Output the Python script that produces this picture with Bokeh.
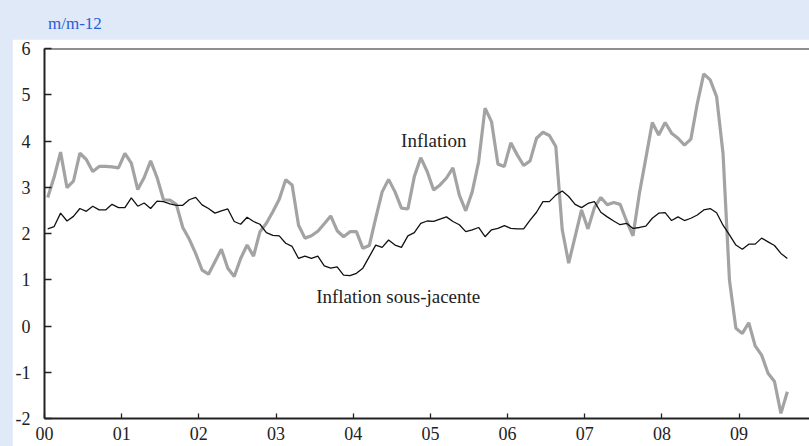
from bokeh.plotting import figure
from bokeh.models import FixedTicker, Range1d, Span, Label, Div, Spacer
from bokeh.layouts import column, row
from bokeh.embed import file_html
from bokeh.resources import INLINE

# ---------------- data (monthly, Jan 2000 - Aug 2009) ----------------
start_year = 2000
inflation = [
    2.78, 3.22, 3.76, 2.99, 3.13, 3.74, 3.60, 3.34, 3.45, 3.45, 3.44, 3.42,
    3.73, 3.52, 2.95, 3.21, 3.57, 3.21, 2.73, 2.72, 2.63, 2.13, 1.88, 1.57,
    1.21, 1.12, 1.39, 1.66, 1.25, 1.07, 1.46, 1.75, 1.51, 2.04, 2.22, 2.47,
    2.74, 3.16, 3.05, 2.18, 1.90, 1.95, 2.05, 2.21, 2.38, 2.06, 1.93, 2.04,
    2.04, 1.68, 1.74, 2.33, 2.90, 3.17, 2.90, 2.55, 2.53, 3.23, 3.64, 3.34,
    2.94, 3.05, 3.20, 3.42, 2.83, 2.49, 2.90, 3.55, 4.71, 4.42, 3.50, 3.45,
    3.96, 3.70, 3.47, 3.57, 4.06, 4.19, 4.12, 3.88, 2.08, 1.36, 1.93, 2.51,
    2.10, 2.56, 2.78, 2.62, 2.67, 2.63, 2.27, 1.95, 2.87, 3.63, 4.40, 4.13,
    4.40, 4.17, 4.06, 3.91, 4.04, 4.81, 5.45, 5.32, 4.96, 3.73, 0.99, -0.05,
    -0.16, 0.07, -0.43, -0.63, -1.02, -1.20, -1.89, -1.42,
]
underlying = [
    2.10, 2.15, 2.44, 2.27, 2.37, 2.54, 2.48, 2.59, 2.51, 2.51, 2.63, 2.56,
    2.56, 2.77, 2.59, 2.66, 2.54, 2.70, 2.69, 2.64, 2.61, 2.61, 2.73, 2.78,
    2.62, 2.54, 2.44, 2.49, 2.53, 2.26, 2.20, 2.35, 2.26, 2.20, 2.02, 1.96,
    1.95, 1.79, 1.72, 1.46, 1.51, 1.46, 1.51, 1.30, 1.25, 1.28, 1.10, 1.09,
    1.14, 1.25, 1.50, 1.75, 1.70, 1.86, 1.75, 1.70, 1.95, 2.02, 2.22, 2.27,
    2.26, 2.31, 2.36, 2.26, 2.19, 2.04, 2.08, 2.13, 1.93, 2.08, 2.11, 2.17,
    2.11, 2.10, 2.10, 2.29, 2.46, 2.69, 2.69, 2.83, 2.92, 2.80, 2.63, 2.56,
    2.65, 2.69, 2.46, 2.36, 2.27, 2.19, 2.22, 2.11, 2.13, 2.16, 2.33, 2.44,
    2.45, 2.28, 2.36, 2.28, 2.33, 2.40, 2.51, 2.54, 2.45, 2.18, 1.97, 1.75,
    1.66, 1.77, 1.77, 1.90, 1.82, 1.74, 1.57, 1.46,
]
year_ticks = [2000, 2001, 2002, 2003, 2004, 2005, 2006, 2007, 2008, 2009]
year_labels = ["00", "01", "02", "03", "04", "05", "06", "07", "08", "09"]
y_ticks = [-2, -1, 0, 1, 2, 3, 4, 5, 6]
y_labels = ["-2", "-1", "0", "1", "2", "3", "4", "5", "6"]
unit_label = "m/m-12"
series_names = ["Inflation", "Inflation sous-jacente"]

# month centres
x_infl = [start_year + (i + 0.5) / 12 for i in range(len(inflation))]
x_und = [start_year + (i + 0.5) / 12 for i in range(len(underlying))]

BG = "#dfe9f8"
FONT = "Liberation Serif"
INK = "#222222"

p = figure(width=797, height=407, output_backend="svg", toolbar_location=None,
           x_range=Range1d(2000, 2009.912), y_range=Range1d(-2, 6),
           min_border_left=31, min_border_right=0, min_border_top=9,
           min_border_bottom=28, border_fill_color="white",
           background_fill_color="white", outline_line_color=None)
p.grid.visible = False

p.line(x_infl, inflation, line_color="#a3a3a3", line_width=3.2)
p.line(x_und, underlying, line_color="#111111", line_width=1.3)

# top border of the frame
p.add_layout(Span(location=6, dimension="width", line_color=INK, line_width=2))

for ax in (p.xaxis[0], p.yaxis[0]):
    ax.axis_line_color = INK
    ax.axis_line_width = 2
    ax.major_tick_line_color = INK
    ax.major_tick_line_width = 1.3
    ax.major_tick_out = 0
    ax.minor_tick_line_color = None
    ax.major_label_text_font = FONT
    ax.major_label_text_font_size = "18px"
    ax.major_label_text_color = INK

p.xaxis.ticker = FixedTicker(ticks=year_ticks)
p.xaxis.major_label_overrides = {t: l for t, l in zip(year_ticks, year_labels)}
p.xaxis.major_tick_in = 5
p.xaxis.major_label_standoff = 8

p.yaxis.ticker = FixedTicker(ticks=y_ticks)
p.yaxis.major_label_overrides = {t: l for t, l in zip(y_ticks, y_labels)}
p.yaxis.major_tick_in = 7
p.yaxis.major_label_standoff = 14

p.add_layout(Label(x=2004.62, y=4.02, text=series_names[0], text_font=FONT,
                   text_font_size="19px", text_color=INK, text_align="left",
                   text_baseline="alphabetic"))
p.add_layout(Label(x=2003.52, y=0.63, text=series_names[1], text_font=FONT,
                   text_font_size="19px", text_color=INK, text_align="left",
                   text_baseline="alphabetic"))

header = Div(
    text=('<div style="padding:15px 0 0 48px; font-family:\'Liberation Serif\', serif;'
          ' font-size:17px; line-height:18px; color:#2a5bd7; white-space:nowrap;">'
          + unit_label + '</div>'),
    width=809, height=39, margin=0)

layout = column(header, row(Spacer(width=12, height=407, margin=0), p, spacing=0),
                spacing=0)

template = ("{% block postamble %}<style>html, body { margin: 0; padding: 0; "
            "overflow: hidden; background-color: " + BG + "; }</style>{% endblock %}")

open("out.html", "w").write(file_html(layout, INLINE, template=template))
